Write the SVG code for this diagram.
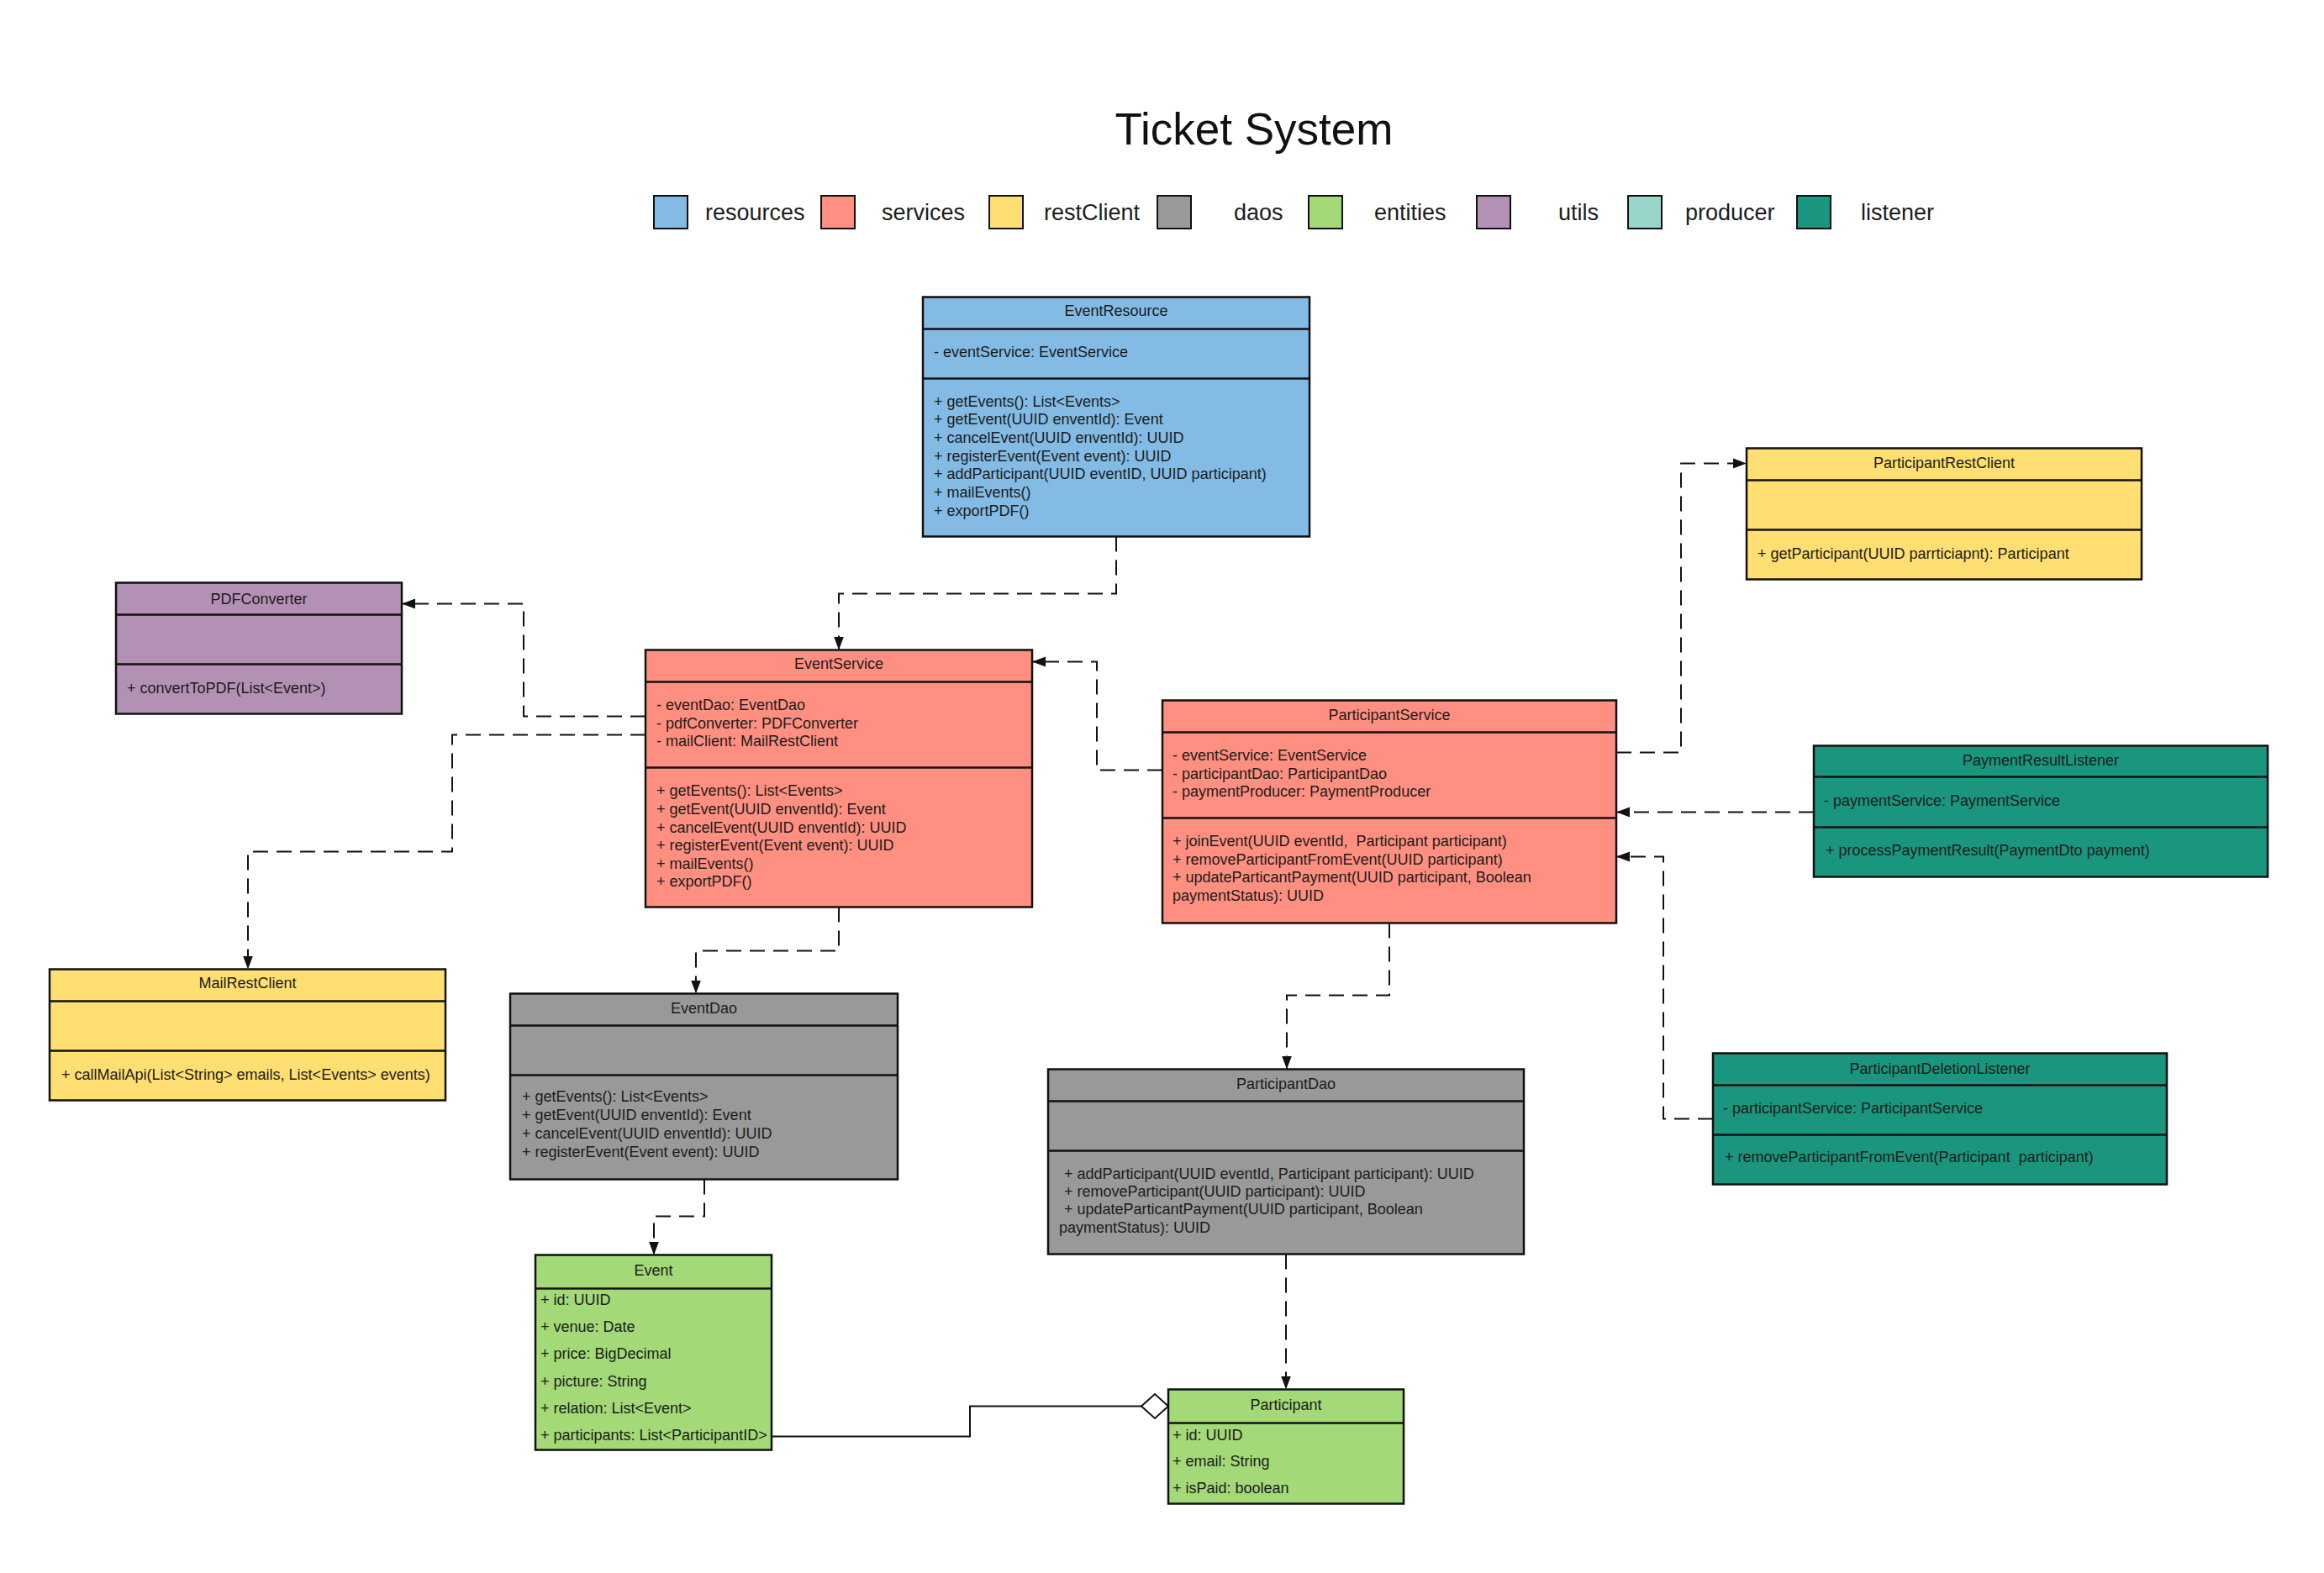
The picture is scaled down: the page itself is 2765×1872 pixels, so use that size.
<svg xmlns="http://www.w3.org/2000/svg" width="2765" height="1872" viewBox="0 0 2765 1872">
<style>
  text { font-family: "Liberation Sans", Arial, sans-serif; fill: #1c1c1c; }
  .t { font-size: 18px; }
  .h { font-size: 18px; text-anchor: middle; }
  .lg { font-size: 27px; }
  .ttl { font-size: 53px; text-anchor: middle; fill: #111; }
  .box { stroke: #111; stroke-width: 2.5; }
  .dv { stroke: #111; stroke-width: 2.5; }
  .sw { stroke: #111; stroke-width: 2; }
  .conn { fill: none; stroke: #111; stroke-width: 2; stroke-dasharray: 18 10; }
  .solid { fill: none; stroke: #111; stroke-width: 2; }
  .res { fill: #83bbe5; } .srv { fill: #ff8f80; } .rc { fill: #ffdf71; } .dao { fill: #999999; }
  .ent { fill: #a3d977; } .utl { fill: #b391b5; } .prd { fill: #99d5ca; } .lst { fill: #19967d; }
</style>
<defs>
  <marker id="arr" markerUnits="userSpaceOnUse" markerWidth="18" markerHeight="14" refX="16" refY="7" orient="auto">
    <path d="M0,1 L16,7 L0,13 z" fill="#111" stroke="none"/>
  </marker>
</defs>
<rect width="2765" height="1872" fill="#ffffff"/>

<text class="ttl" x="1492" y="172">Ticket System</text>

<g id="legend">
  <rect class="sw res" x="778" y="233" width="40" height="39"/><text class="lg" x="839" y="262">resources</text>
  <rect class="sw srv" x="977" y="233" width="40" height="39"/><text class="lg" x="1049" y="262">services</text>
  <rect class="sw rc" x="1177" y="233" width="40" height="39"/><text class="lg" x="1242" y="262">restClient</text>
  <rect class="sw dao" x="1377" y="233" width="40" height="39"/><text class="lg" x="1468" y="262">daos</text>
  <rect class="sw ent" x="1557" y="233" width="40" height="39"/><text class="lg" x="1635" y="262">entities</text>
  <rect class="sw utl" x="1757" y="233" width="40" height="39"/><text class="lg" x="1854" y="262">utils</text>
  <rect class="sw prd" x="1937" y="233" width="40" height="39"/><text class="lg" x="2005" y="262">producer</text>
  <rect class="sw lst" x="2138" y="233" width="40" height="39"/><text class="lg" x="2214" y="262">listener</text>
</g>

<g transform="translate(0,1.5)">
<g id="connectors">
  <path class="conn" d="M1328,637 V705 H998 V772" marker-end="url(#arr)"/>
  <path class="conn" d="M768,851 H623 V717 H478" marker-end="url(#arr)"/>
  <path class="conn" d="M768,873 H538 V1012 H295 V1152" marker-end="url(#arr)"/>
  <path class="conn" d="M998,1078 V1130 H828 V1181" marker-end="url(#arr)"/>
  <path class="conn" d="M838,1402 V1446 H778 V1492" marker-end="url(#arr)"/>
  <path class="conn" d="M1383,915 H1305 V786 H1228" marker-end="url(#arr)"/>
  <path class="conn" d="M1923,894 H2000 V550 H2078" marker-end="url(#arr)"/>
  <path class="conn" d="M2158,965 H1923" marker-end="url(#arr)"/>
  <path class="conn" d="M2038,1330 H1979 V1018 H1923" marker-end="url(#arr)"/>
  <path class="conn" d="M1653,1097 V1183 H1531 V1271" marker-end="url(#arr)"/>
  <path class="conn" d="M1530,1491 V1652" marker-end="url(#arr)"/>
  <path class="solid" d="M918,1708 H1154 V1672 H1358"/>
  <path d="M1358,1672 L1374,1657.5 L1390,1672 L1374,1686.5 z" fill="#fff" stroke="#111" stroke-width="2"/>
</g>

<g id="EventResource">
  <rect class="box res" x="1098" y="352" width="460" height="285"/>
  <line class="dv" x1="1098" y1="390" x2="1558" y2="390"/>
  <line class="dv" x1="1098" y1="449" x2="1558" y2="449"/>
  <text class="h" x="1328" y="374">EventResource</text>
  <text class="t" x="1111" y="423">- eventService: EventService</text>
  <text class="t" x="1111" y="482">+ getEvents(): List&lt;Events&gt;</text>
  <text class="t" x="1111" y="503.5">+ getEvent(UUID enventId): Event</text>
  <text class="t" x="1111" y="525">+ cancelEvent(UUID enventId): UUID</text>
  <text class="t" x="1111" y="547">+ registerEvent(Event event): UUID</text>
  <text class="t" x="1111" y="568.5">+ addParticipant(UUID eventID, UUID participant)</text>
  <text class="t" x="1111" y="590">+ mailEvents()</text>
  <text class="t" x="1111" y="612">+ exportPDF()</text>
</g>

<g id="PDFConverter">
  <rect class="box utl" x="138" y="692" width="340" height="156"/>
  <line class="dv" x1="138" y1="730" x2="478" y2="730"/>
  <line class="dv" x1="138" y1="789" x2="478" y2="789"/>
  <text class="h" x="308" y="717">PDFConverter</text>
  <text class="t" x="151" y="823">+ convertToPDF(List&lt;Event&gt;)</text>
</g>

<g id="EventService">
  <rect class="box srv" x="768" y="772" width="460" height="306"/>
  <line class="dv" x1="768" y1="810" x2="1228" y2="810"/>
  <line class="dv" x1="768" y1="912" x2="1228" y2="912"/>
  <text class="h" x="998" y="794">EventService</text>
  <text class="t" x="781" y="843">- eventDao: EventDao</text>
  <text class="t" x="781" y="865">- pdfConverter: PDFConverter</text>
  <text class="t" x="781" y="886">- mailClient: MailRestClient</text>
  <text class="t" x="781" y="945">+ getEvents(): List&lt;Events&gt;</text>
  <text class="t" x="781" y="967">+ getEvent(UUID enventId): Event</text>
  <text class="t" x="781" y="989">+ cancelEvent(UUID enventId): UUID</text>
  <text class="t" x="781" y="1010">+ registerEvent(Event event): UUID</text>
  <text class="t" x="781" y="1032">+ mailEvents()</text>
  <text class="t" x="781" y="1053">+ exportPDF()</text>
</g>

<g id="ParticipantService">
  <rect class="box srv" x="1383" y="832" width="540" height="265"/>
  <line class="dv" x1="1383" y1="870" x2="1923" y2="870"/>
  <line class="dv" x1="1383" y1="972" x2="1923" y2="972"/>
  <text class="h" x="1653" y="855">ParticipantService</text>
  <text class="t" x="1395" y="903">- eventService: EventService</text>
  <text class="t" x="1395" y="925">- participantDao: ParticipantDao</text>
  <text class="t" x="1395" y="946">- paymentProducer: PaymentProducer</text>
  <text class="t" x="1395" y="1005" xml:space="preserve">+ joinEvent(UUID eventId,  Participant participant)</text>
  <text class="t" x="1395" y="1027">+ removeParticipantFromEvent(UUID participant)</text>
  <text class="t" x="1395" y="1048">+ updateParticantPayment(UUID participant, Boolean</text>
  <text class="t" x="1395" y="1070">paymentStatus): UUID</text>
</g>

<g id="ParticipantRestClient">
  <rect class="box rc" x="2078" y="532" width="470" height="156"/>
  <line class="dv" x1="2078" y1="570" x2="2548" y2="570"/>
  <line class="dv" x1="2078" y1="629" x2="2548" y2="629"/>
  <text class="h" x="2313" y="555">ParticipantRestClient</text>
  <text class="t" x="2091" y="663">+ getParticipant(UUID parrticiapnt): Participant</text>
</g>

<g id="PaymentResultListener">
  <rect class="box lst" x="2158" y="886" width="540" height="156"/>
  <line class="dv" x1="2158" y1="923" x2="2698" y2="923"/>
  <line class="dv" x1="2158" y1="983" x2="2698" y2="983"/>
  <text class="h" x="2428" y="909">PaymentResultListener</text>
  <text class="t" x="2170" y="957">- paymentService: PaymentService</text>
  <text class="t" x="2172" y="1016">+ processPaymentResult(PaymentDto payment)</text>
</g>

<g id="ParticipantDeletionListener">
  <rect class="box lst" x="2038" y="1252" width="540" height="156"/>
  <line class="dv" x1="2038" y1="1290" x2="2578" y2="1290"/>
  <line class="dv" x1="2038" y1="1349" x2="2578" y2="1349"/>
  <text class="h" x="2308" y="1276">ParticipantDeletionListener</text>
  <text class="t" x="2050" y="1323">- participantService: ParticipantService</text>
  <text class="t" x="2052" y="1381" xml:space="preserve">+ removeParticipantFromEvent(Participant  participant)</text>
</g>

<g id="MailRestClient">
  <rect class="box rc" x="59" y="1152" width="471" height="156"/>
  <line class="dv" x1="59" y1="1190" x2="530" y2="1190"/>
  <line class="dv" x1="59" y1="1249" x2="530" y2="1249"/>
  <text class="h" x="294.5" y="1174">MailRestClient</text>
  <text class="t" x="73" y="1283">+ callMailApi(List&lt;String&gt; emails, List&lt;Events&gt; events)</text>
</g>

<g id="EventDao">
  <rect class="box dao" x="607" y="1181" width="461" height="221"/>
  <line class="dv" x1="607" y1="1219" x2="1068" y2="1219"/>
  <line class="dv" x1="607" y1="1278" x2="1068" y2="1278"/>
  <text class="h" x="837.5" y="1204">EventDao</text>
  <text class="t" x="621" y="1309">+ getEvents(): List&lt;Events&gt;</text>
  <text class="t" x="621" y="1331">+ getEvent(UUID enventId): Event</text>
  <text class="t" x="621" y="1353">+ cancelEvent(UUID enventId): UUID</text>
  <text class="t" x="621" y="1375">+ registerEvent(Event event): UUID</text>
</g>

<g id="ParticipantDao">
  <rect class="box dao" x="1247" y="1271" width="566" height="220"/>
  <line class="dv" x1="1247" y1="1309" x2="1813" y2="1309"/>
  <line class="dv" x1="1247" y1="1368" x2="1813" y2="1368"/>
  <text class="h" x="1530" y="1294">ParticipantDao</text>
  <text class="t" x="1266" y="1401">+ addParticipant(UUID eventId, Participant participant): UUID</text>
  <text class="t" x="1266" y="1422">+ removeParticipant(UUID participant): UUID</text>
  <text class="t" x="1266" y="1443">+ updateParticantPayment(UUID participant, Boolean</text>
  <text class="t" x="1260" y="1465">paymentStatus): UUID</text>
</g>

<g id="Event">
  <rect class="box ent" x="637" y="1492" width="281" height="232"/>
  <line class="dv" x1="637" y1="1532" x2="918" y2="1532"/>
  <text class="h" x="777.5" y="1516">Event</text>
  <text class="t" x="643" y="1551">+ id: UUID</text>
  <text class="t" x="643" y="1583">+ venue: Date</text>
  <text class="t" x="643" y="1615">+ price: BigDecimal</text>
  <text class="t" x="643" y="1648">+ picture: String</text>
  <text class="t" x="643" y="1680">+ relation: List&lt;Event&gt;</text>
  <text class="t" x="643" y="1712">+ participants: List&lt;ParticipantID&gt;</text>
</g>

<g id="Participant">
  <rect class="box ent" x="1390" y="1652" width="280" height="136"/>
  <line class="dv" x1="1390" y1="1692" x2="1670" y2="1692"/>
  <text class="h" x="1530" y="1676">Participant</text>
  <text class="t" x="1395" y="1712">+ id: UUID</text>
  <text class="t" x="1395" y="1743">+ email: String</text>
  <text class="t" x="1395" y="1775">+ isPaid: boolean</text>
</g>
</g>
</svg>
